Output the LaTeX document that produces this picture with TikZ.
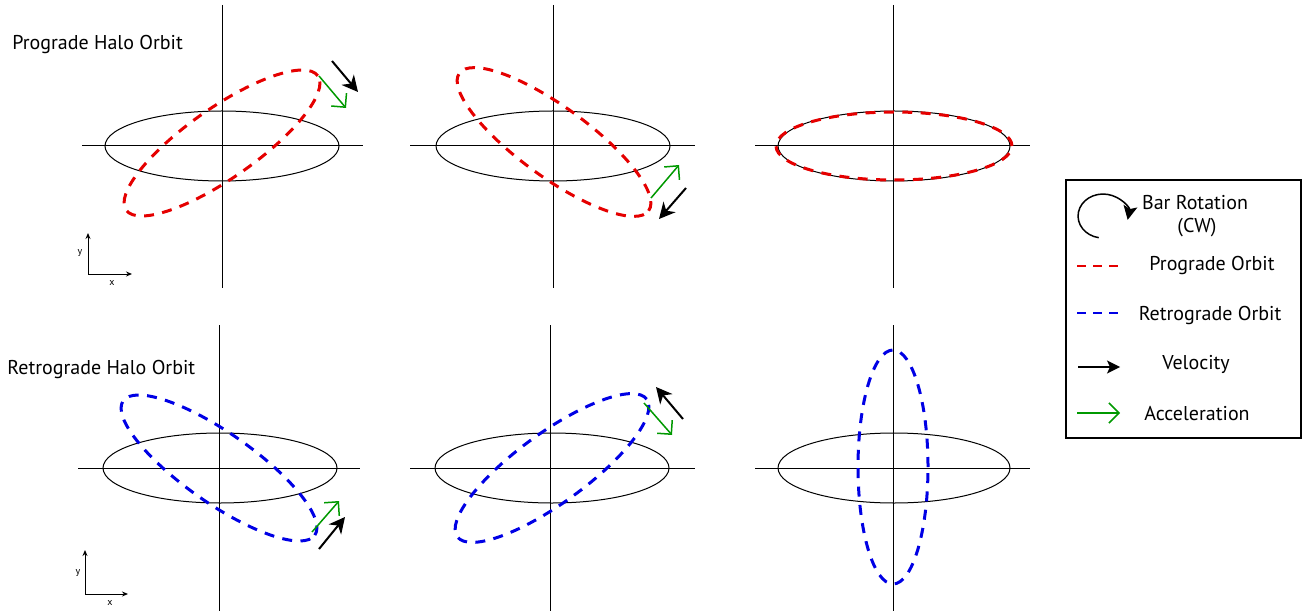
\documentclass[tikz,border=0pt]{standalone}
\usepackage{fontspec}
\setmainfont{PT Sans}
\usetikzlibrary{arrows.meta}
\begin{document}
\begin{tikzpicture}[x=0.5pt,y=0.5pt,
  axisline/.style={line width=0.5pt,black},
  bar/.style={line width=0.5pt,black},
  prograde/.style={line width=1.5pt,red!90!black,dash pattern=on 5pt off 4.2pt},
  retrograde/.style={line width=1.5pt,blue!90!black,dash pattern=on 5pt off 4.2pt},
  velarrow/.style={line width=1pt,black,-{Stealth[length=8pt,width=8pt,inset=2.5pt]}},
  accarrow/.style={line width=0.75pt,green!60!black,-{Straight Barb[length=5pt,width=10pt]}},
  smallaxis/.style={line width=0.5pt,-{Stealth[length=3pt,width=2.5pt]}},
  lbl/.style={font=\fontsize{10}{12}\selectfont,inner sep=0pt},
  tiny/.style={font=\fontsize{5}{6}\selectfont,inner sep=0pt}
]
\useasboundingbox (0,0) rectangle (1304,611);

% ---------- Top row ----------
% panel 1
\draw[axisline] (222,606) -- (222,323);
\draw[axisline] (82,465) -- (363,465);
\draw[bar] (222,465) ellipse [x radius=117, y radius=35];
\draw[prograde,rotate around={35:(222,468)}] (222,468) ellipse [x radius=117, y radius=35];
\coordinate (v1a) at (332,550); \coordinate (v1b) at (358,519);
\coordinate (a1a) at (319,535); \coordinate (a1b) at (346,503);
\draw[velarrow] (v1a) -- (v1b);
\draw[accarrow] (a1a) -- (a1b);

% panel 2
\draw[axisline] (553,606) -- (553,323);
\draw[axisline] (410,465) -- (695,465);
\draw[bar] (553,465) ellipse [x radius=117, y radius=35];
\draw[prograde,rotate around={-36:(554,469)}] (554,469) ellipse [x radius=117, y radius=35];
\coordinate (v2a) at (686,423); \coordinate (v2b) at (659,392);
\coordinate (a2a) at (651,413); \coordinate (a2b) at (679,446);
\draw[velarrow] (v2a) -- (v2b);
\draw[accarrow] (a2a) -- (a2b);

% panel 3
\draw[axisline] (893,606) -- (893,323);
\draw[axisline] (755,465) -- (1030,465);
\draw[bar] (894,465) ellipse [x radius=116, y radius=35];
\draw[prograde] (894,465) ellipse [x radius=118, y radius=34];

% ---------- Bottom row ----------
% panel 4
\draw[axisline] (219,286) -- (219,0);
\draw[axisline] (78,143) -- (360,143);
\draw[bar] (220,143) ellipse [x radius=117, y radius=35];
\draw[retrograde,rotate around={-35:(219,143)}] (219,143) ellipse [x radius=117, y radius=35];
\coordinate (v4a) at (319,62); \coordinate (v4b) at (345,94);
\coordinate (a4a) at (312,79); \coordinate (a4b) at (339,110);
\draw[velarrow] (v4a) -- (v4b);
\draw[accarrow] (a4a) -- (a4b);

% panel 5
\draw[axisline] (550,286) -- (550,0);
\draw[axisline] (410,143) -- (695,143);
\draw[bar] (552,143) ellipse [x radius=117, y radius=35];
\draw[retrograde,rotate around={36:(552,143)}] (552,143) ellipse [x radius=117, y radius=35];
\coordinate (v5a) at (683,192); \coordinate (v5b) at (656,224);
\coordinate (a5a) at (644,208); \coordinate (a5b) at (672,176);
\draw[velarrow] (v5a) -- (v5b);
\draw[accarrow] (a5a) -- (a5b);

% panel 6
\draw[axisline] (893,286) -- (893,0);
\draw[axisline] (755,143) -- (1030,143);
\draw[bar] (894,143) ellipse [x radius=116, y radius=35];
\draw[retrograde] (893,144) ellipse [x radius=35, y radius=117];

% ---------- small axes ----------
\coordinate (o1) at (88,337); \coordinate (y1) at (88,378); \coordinate (x1) at (132,337);
\draw[smallaxis] (o1) -- (y1);
\draw[smallaxis] (o1) -- (x1);
\node[tiny] (ly1) at (80,358) {y};
\node[tiny] (lx1) at (112,328) {x};
\coordinate (o2) at (85,17); \coordinate (y2) at (85,61); \coordinate (x2) at (128,17);
\draw[smallaxis] (o2) -- (y2);
\draw[smallaxis] (o2) -- (x2);
\node[tiny] (ly2) at (78,38) {y};
\node[tiny] (lx2) at (110,8) {x};

% ---------- titles ----------
\node[lbl,anchor=west] (t1) at (12,566) {Prograde Halo Orbit};
\node[lbl,anchor=west] (t2) at (7,242) {Retrograde Halo Orbit};

% ---------- legend ----------
\coordinate (lbl1) at (1066,173); \coordinate (lbr2) at (1301,431);
\draw[line width=1pt] (lbl1) rectangle (lbr2);
\draw[line width=0.75pt,-{Stealth[length=7pt,width=7pt,inset=1.5pt]}]
  (1098.7,373.3) arc[start angle=260,end angle=-10,x radius=25,y radius=22];
\node[lbl] (lbar) at (1195,408) {Bar Rotation};
\node[lbl] (lcw) at (1197,383) {(CW)};
\coordinate (lp1) at (1077,345); \coordinate (lp2) at (1120,345);
\draw[line width=0.6pt,red!90!black,dash pattern=on 4.5pt off 3.5pt] (lp1) -- (lp2);
\node[lbl] (lpro) at (1212,346) {Prograde Orbit};
\coordinate (lr1) at (1077,298); \coordinate (lr2) at (1120,298);
\draw[line width=0.6pt,blue!90!black,dash pattern=on 4.5pt off 3.5pt] (lr1) -- (lr2);
\node[lbl] (lret) at (1210,296) {Retrograde Orbit};
\coordinate (lv1) at (1078,244); \coordinate (lv2) at (1120,244);
\draw[line width=0.75pt,-{Stealth[length=6.5pt,width=6.5pt,inset=1.5pt]}] (lv1) -- (lv2);
\node[lbl] (lvel) at (1196,247) {Velocity};
\coordinate (la1) at (1077,198); \coordinate (la2) at (1120,198);
\draw[accarrow] (la1) -- (la2);
\node[lbl] (lacc) at (1197,197) {Acceleration};
\end{tikzpicture}
\end{document}
